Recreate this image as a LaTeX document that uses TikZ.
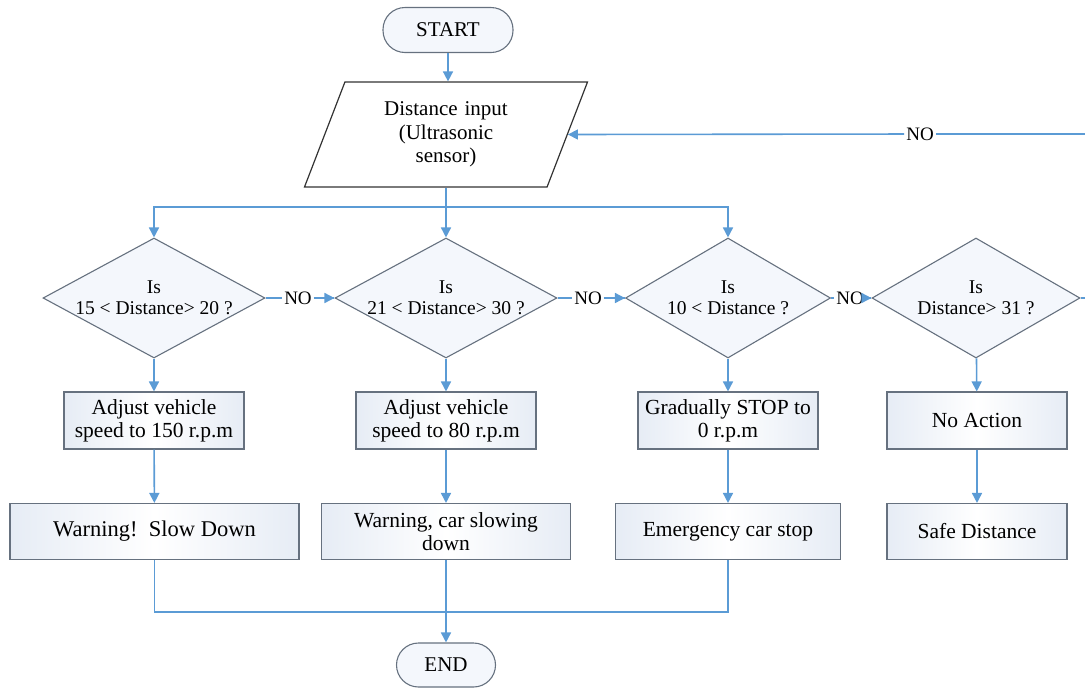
\documentclass[tikz,border=0pt]{standalone}
\usepackage{fontspec}
\setmainfont{Liberation Serif}
\usetikzlibrary{shapes.geometric,arrows.meta}

\definecolor{flowblue}{HTML}{5B9BD5}
\definecolor{edgegray}{HTML}{66717F}
\definecolor{boxfill}{HTML}{E6ECF5}
\definecolor{diafill}{HTML}{F4F7FC}

\tikzset{
    terminal/.style={draw=edgegray, line width=1.1pt, fill=diafill, rounded corners=22pt,
        minimum height=45pt, font=\fontsize{21}{23}\selectfont},
    datain/.style={draw=black!80, line width=1.2pt, fill=white, trapezium,
        trapezium left angle=60.7, trapezium right angle=119.3, trapezium stretches body,
        minimum width=283pt, minimum height=105pt, align=center, font=\fontsize{21}{23.5}\selectfont},
    decision/.style={draw=edgegray, line width=1.1pt, fill=diafill, diamond, aspect=1.85,
        inner sep=-6pt, minimum height=120pt, align=center, font=\fontsize{19.5}{21}\selectfont},
    actionbox/.style={draw=edgegray, line width=1.1pt, left color=boxfill, right color=boxfill,
        middle color=white, minimum height=57pt, align=center, font=\fontsize{21.5}{23}\selectfont},
    flow/.style={draw=flowblue, line width=1.6pt},
    nolabel/.style={inner sep=2pt, font=\fontsize{19}{20}\selectfont}
}

\begin{document}
\begin{tikzpicture}[x=1pt,y=-1pt,>={Triangle[length=10pt,width=10pt]}]
    \clip (0,0) rectangle (1085,689);

    % Start and the sensor input, second column
    \draw (448,30) node[terminal,minimum width=130pt] (Start) {START}
    (446,134.5) node[datain] (DistanceInput) {Distance\,\,input\\(Ultrasonic\\sensor)};

    % The four checks, one row
    \draw (154,298) node[decision,minimum width=222pt] (Check1) {Is\\15 < Distance> 20 ?}
    ++(292,0) node[decision,minimum width=222pt] (Check2) {Is\\21 < Distance> 30 ?}
    ++(282,0) node[decision,minimum width=205pt] (Check3) {Is\\10 < Distance ?}
    ++(248,0) node[decision,minimum width=208pt] (Check4) {Is\\Distance> 31 ?};

    % Speed actions and messages under each check
    \draw (Check1) ++(0,122.5) node[actionbox,minimum width=180pt] (Action1) {Adjust vehicle\\speed to 150 r.p.m}
    ++(0.5,111) node[actionbox,minimum width=289pt,minimum height=56pt,font=\fontsize{22.5}{23}\selectfont] (Notice1) {Warning!\ \ Slow Down};
    \draw (Check2) ++(0,122.5) node[actionbox,minimum width=180pt] (Action2) {Adjust vehicle\\speed to 80 r.p.m}
    ++(0,111) node[actionbox,minimum width=249pt,minimum height=56pt] (Notice2) {Warning, car slowing\\down};
    \draw (Check3) ++(0,122.5) node[actionbox,minimum width=180pt] (Action3) {Gradually STOP to\\0 r.p.m}
    ++(0,111) node[actionbox,minimum width=225pt,minimum height=56pt] (Notice3) {Emergency car stop};
    \draw (Check4) ++(1,122.5) node[actionbox,minimum width=180pt] (Action4) {No Action}
    ++(0,111) node[actionbox,minimum width=180pt,minimum height=56pt] (Notice4) {Safe Distance};

    \draw (446,665) node[terminal,minimum width=99pt,minimum height=44pt] (End) {END};

    % NO labels between the checks and on the way back
    \node[nolabel] (No1) at (298,298) {NO};
    \node[nolabel] (No2) at (588,298) {NO};
    \node[nolabel] (No3) at (850,298) {NO};
    \node[nolabel] (NoLoop) at (920,134) {NO};
    \coordinate (Split) at (446,207);
    \coordinate (Merge) at (446,612);
    \coordinate (LoopCorner) at (1095,298);

    \draw[flow,->] (Start.south) -- (Start.south |- DistanceInput.north);
    \draw[flow] (DistanceInput.center |- DistanceInput.south) -- (Split);
    \foreach \x in {Check1,Check2,Check3}
    {
        \draw[flow,->] (Split) -| (\x.north);
    }

    \foreach \x[remember=\x as \lastx (initially Check1)] in {No1,Check2,No2,Check3,No3,Check4}
    {
        \draw[flow] (\lastx.east) -- (\x.west);
    }
    \foreach \x/\y in {No1/Check2,No2/Check3,No3/Check4}
    {
        \draw[flow,->] (\x) -- (\y.west);
    }

    \draw[flow] (Check4.east) -- (LoopCorner) |- (NoLoop);
    \draw[flow,->] (NoLoop) -- (DistanceInput.east);

    \foreach \n in {1,...,4}
    {
        \draw[flow,->] (Check\n) -- (Action\n);
        \draw[flow,->] (Action\n) -- (Notice\n);
    }

    \foreach \x in {Notice1,Notice3}
    {
        \draw[flow] (\x.south) |- (Merge);
    }
    \draw[flow,->] (Notice2) -- (End);
\end{tikzpicture}
\end{document}
